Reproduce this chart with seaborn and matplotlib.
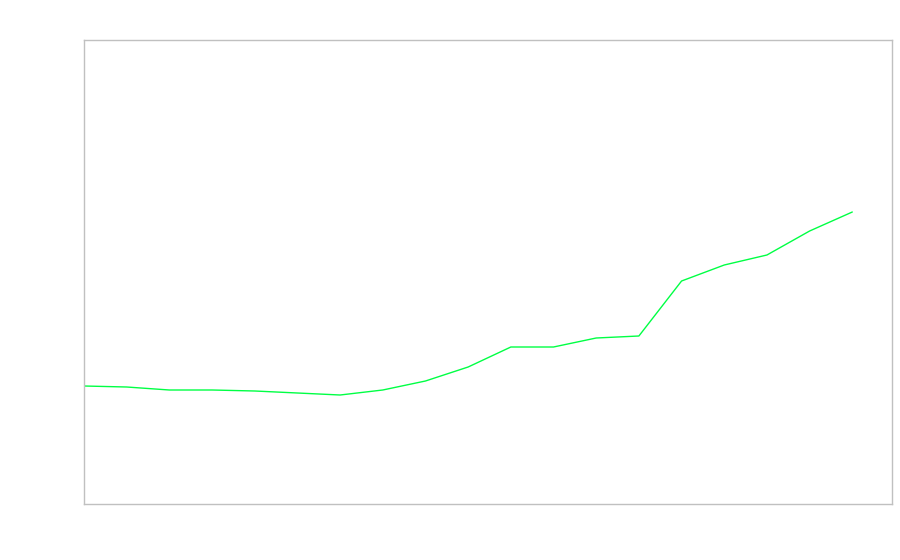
import numpy as np
import pandas as pd
import matplotlib
matplotlib.use("Agg")
import matplotlib.pyplot as plt
import seaborn as sns

# Data (arbitrary units, no axis labels shown)
steps = list(range(19))
values = [118, 117, 114, 114, 113, 111, 109, 114, 123, 137,
          157, 157, 166, 168, 223, 239, 249, 273, 292]

df = pd.DataFrame({"step": steps, "value": values})

sns.set_style("white")
fig = plt.figure(figsize=(9, 5.6), dpi=100)
ax = fig.add_axes([84 / 900, 56 / 560, 808 / 900, 464 / 560])

sns.lineplot(data=df, x="step", y="value", ax=ax, color="#00ff44", linewidth=1.0)

ax.set_xlim(0, 18.93)
ax.set_ylim(0, 464)
ax.set_xticks([])
ax.set_yticks([])
ax.set_xlabel("")
ax.set_ylabel("")
for side in ["left", "right", "top", "bottom"]:
    ax.spines[side].set_visible(True)
    ax.spines[side].set_color("#c0c0c0")
    ax.spines[side].set_linewidth(1.0)

fig.savefig("out.png", dpi=100)
plt.close(fig)
